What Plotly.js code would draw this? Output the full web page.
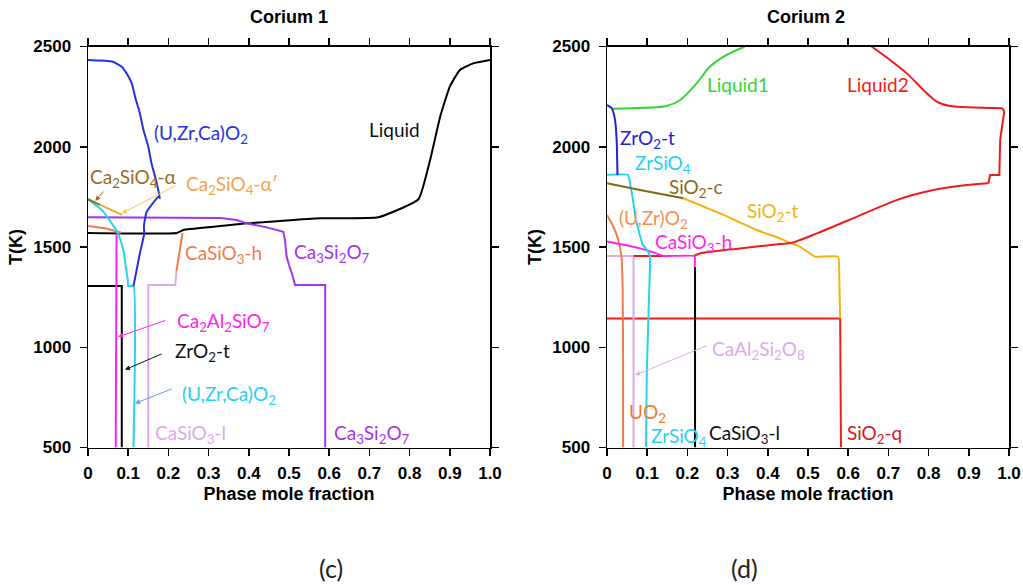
<!DOCTYPE html>
<html>
<head>
<meta charset="utf-8">
<script src="https://cdn.plot.ly/plotly-3.0.1.min.js"></script>
<style>html,body{margin:0;padding:0;background:#fff;}#chart{width:1023px;height:585px;}</style>
</head>
<body>
<div id="chart"></div>
<script>
// ---------- Data: Corium 1 (phase mole fraction vs T) ----------
const c1_UZrCaO2_hi_x = [0, 0.03, 0.062, 0.084, 0.096, 0.109, 0.117, 0.129, 0.138, 0.15, 0.158, 0.169, 0.179, 0.175, 0.146, 0.142, 0.139, 0.14, 0.129, 0.121, 0.113];
const c1_UZrCaO2_hi_T = [2433, 2430, 2424, 2399, 2366, 2316, 2250, 2167, 2083, 2000, 1917, 1834, 1743, 1751, 1676, 1643, 1601, 1568, 1468, 1385, 1305];
const c1_UZrCaO2_lo_x = [0, 0.034, 0.059, 0.075, 0.088, 0.094, 0.099, 0.1, 0.113, 0.113];
const c1_UZrCaO2_lo_T = [1738, 1685, 1618, 1568, 1485, 1402, 1335, 1305, 1305, 500];
const c1_Ca2SiO4a_x = [0, 0.03];
const c1_Ca2SiO4a_T = [1738, 1710];
const c1_Ca2SiO4ap_x = [0.03, 0.085];
const c1_Ca2SiO4ap_T = [1710, 1660];
const c1_Ca3Si2O7_x = [0, 0.25, 0.33, 0.37, 0.395, 0.445, 0.486, 0.49, 0.494, 0.5, 0.507, 0.515, 0.59, 0.59];
const c1_Ca3Si2O7_T = [1648, 1648, 1645, 1635, 1618, 1598, 1576, 1535, 1452, 1410, 1369, 1310, 1310, 500];
const c1_Liquid_x = [0, 0.22, 0.237, 0.312, 0.395, 0.577, 0.722, 0.822, 0.851, 0.876, 0.9, 0.925, 0.958, 1.0];
const c1_Liquid_T = [1570, 1570, 1585, 1601, 1618, 1643, 1648, 1738, 1934, 2150, 2300, 2383, 2416, 2433];
const c1_CaSiO3h_a_x = [0, 0.042, 0.083];
const c1_CaSiO3h_a_T = [1605, 1593, 1571];
const c1_CaSiO3h_b_x = [0.235, 0.232, 0.226, 0.22];
const c1_CaSiO3h_b_T = [1570, 1530, 1450, 1380];
const c1_CaSiO3l_x = [0.22, 0.217, 0.15, 0.15];
const c1_CaSiO3l_T = [1380, 1310, 1310, 500];
const c1_ZrO2t_x = [0, 0.084, 0.084];
const c1_ZrO2t_T = [1305, 1305, 500];
const c1_Ca2Al2SiO7_x = [0.071, 0.069];
const c1_Ca2Al2SiO7_T = [1568, 500];

// ---------- Data: Corium 2 ----------
const c2_Liquid1_x = [0.015, 0.06, 0.148, 0.182, 0.223, 0.256, 0.29, 0.343];
const c2_Liquid1_T = [2190, 2192, 2203, 2233, 2316, 2400, 2450, 2500];
const c2_ZrO2t_x = [0, 0.012, 0.02, 0.024, 0.026];
const c2_ZrO2t_T = [2208, 2192, 2133, 2034, 1859];
const c2_ZrSiO4_x = [0, 0.052, 0.06, 0.068, 0.074, 0.089, 0.1, 0.107, 0.105, 0.099, 0.097];
const c2_ZrSiO4_T = [1860, 1860, 1790, 1690, 1618, 1510, 1485, 1452, 1285, 870, 500];
const c2_SiO2c_x = [0, 0.082, 0.19];
const c2_SiO2c_T = [1818, 1784, 1743];
const c2_SiO2t_x = [0.19, 0.29, 0.372, 0.43, 0.455, 0.48, 0.505, 0.517, 0.575, 0.578, 0.58];
const c2_SiO2t_T = [1743, 1660, 1585, 1543, 1521, 1501, 1468, 1452, 1452, 1319, 1144];
const c2_Liquid2_up_x = [0.658, 0.704, 0.746, 0.787, 0.82, 0.853, 0.984];
const c2_Liquid2_up_T = [2500, 2433, 2366, 2283, 2225, 2203, 2192];
const c2_Liquid2_side_x = [0.984, 0.988, 0.978, 0.976, 0.953, 0.949];
const c2_Liquid2_side_T = [2192, 2175, 2034, 1859, 1859, 1818];
const c2_Liquid2_lo_x = [0.949, 0.895, 0.812, 0.72, 0.612, 0.522, 0.46, 0.43, 0.33, 0.231, 0.215];
const c2_Liquid2_lo_T = [1818, 1809, 1784, 1734, 1643, 1568, 1521, 1515, 1493, 1468, 1455];
const c2_red_mid_x = [0.066, 0.14];
const c2_red_mid_T = [1455, 1455];
const c2_SiO2q_x = [0, 0.58, 0.582];
const c2_SiO2q_T = [1143, 1143, 500];
const c2_CaSiO3h_x = [0, 0.032, 0.082, 0.123, 0.14, 0.218, 0.218];
const c2_CaSiO3h_T = [1527, 1515, 1493, 1468, 1455, 1455, 1400];
const c2_CaSiO3l_x = [0.219, 0.219];
const c2_CaSiO3l_T = [1400, 500];
const c2_CaAl2Si2O8_x = [0, 0.066, 0.066];
const c2_CaAl2Si2O8_T = [1455, 1455, 500];
const c2_UO2_x = [0, 0.016, 0.028, 0.036, 0.039, 0.04, 0.04];
const c2_UO2_T = [1660, 1601, 1535, 1452, 1285, 900, 500];

// ---------- Axis ticks ----------
const xTickVals = [0, 0.1, 0.2, 0.3, 0.4, 0.5, 0.6, 0.7, 0.8, 0.9, 1.0];
const xTickText = ['0', '0.1', '0.2', '0.3', '0.4', '0.5', '0.6', '0.7', '0.8', '0.9', '1.0'];
const yTickVals = [500, 1000, 1500, 2000, 2500];
const yTickText = ['500', '1000', '1500', '2000', '2500'];

// ---------- Colors ----------
const C = {
  blue: '#2433e0', cyan: '#25d2f0', black: '#000000', purple: '#a334f2',
  coral: '#f47a4c', lav: '#dcaae9', magenta: '#ff24ec', olive: '#6f7d1c',
  orange: '#f3a52a', green: '#33d633', red: '#f01c1c', gold: '#f3b30c', brown: '#7d6a12',
  blue2: '#2222d6'
};

function line(x, y, color, ax, smooth) {
  const ln = {color: color, width: 2};
  if (smooth) { ln.shape = 'spline'; ln.smoothing = smooth; }
  return {x: x, y: y, type: 'scatter', mode: 'lines', line: ln,
          xaxis: ax === 2 ? 'x2' : 'x', yaxis: ax === 2 ? 'y2' : 'y', hoverinfo: 'skip', showlegend: false};
}

const traces = [
  line(c1_Liquid_x, c1_Liquid_T, C.black, 1, 0.4),
  line(c1_ZrO2t_x, c1_ZrO2t_T, C.black, 1),
  line(c1_CaSiO3h_a_x, c1_CaSiO3h_a_T, C.coral, 1, 0.6),
  line(c1_CaSiO3h_b_x, c1_CaSiO3h_b_T, C.coral, 1),
  line(c1_CaSiO3l_x, c1_CaSiO3l_T, C.lav, 1),
  line(c1_Ca3Si2O7_x, c1_Ca3Si2O7_T, C.purple, 1),
  line(c1_Ca2Al2SiO7_x, c1_Ca2Al2SiO7_T, C.magenta, 1),
  line(c1_UZrCaO2_lo_x, c1_UZrCaO2_lo_T, C.cyan, 1, 0.4),
  line(c1_UZrCaO2_hi_x, c1_UZrCaO2_hi_T, C.blue, 1, 0.4),
  line(c1_Ca2SiO4a_x, c1_Ca2SiO4a_T, C.olive, 1),
  line(c1_Ca2SiO4ap_x, c1_Ca2SiO4ap_T, C.orange, 1),

  line(c2_SiO2q_x, c2_SiO2q_T, C.red, 2),
  line(c2_CaSiO3l_x, c2_CaSiO3l_T, C.black, 2),
  line(c2_CaAl2Si2O8_x, c2_CaAl2Si2O8_T, C.lav, 2),
  line(c2_UO2_x, c2_UO2_T, C.coral, 2, 0.6),
  line(c2_SiO2t_x, c2_SiO2t_T, C.gold, 2, 0.3),
  line(c2_Liquid2_up_x, c2_Liquid2_up_T, C.red, 2, 0.7),
  line(c2_Liquid2_side_x, c2_Liquid2_side_T, C.red, 2),
  line(c2_Liquid2_lo_x, c2_Liquid2_lo_T, C.red, 2, 0.7),
  line(c2_red_mid_x, c2_red_mid_T, C.red, 2),
  line(c2_CaSiO3h_x, c2_CaSiO3h_T, C.magenta, 2, 0.3),
  line(c2_ZrSiO4_x, c2_ZrSiO4_T, C.cyan, 2, 0.3),
  line(c2_SiO2c_x, c2_SiO2c_T, C.brown, 2, 0.5),
  line(c2_Liquid1_x, c2_Liquid1_T, C.green, 2, 0.8),
  line(c2_ZrO2t_x, c2_ZrO2t_T, C.blue2, 2, 0.6)
];

const LBL = "Lato, 'Open Sans', sans-serif";
function lbl(text, x, y, color, ax) {
  return {text: text, x: x, y: y, xref: ax === 2 ? 'x2' : 'x', yref: ax === 2 ? 'y2' : 'y',
          xanchor: 'left', yanchor: 'middle', showarrow: false, font: {family: LBL, size: 19, color: color}};
}
function arrow(hx, hy, tx, ty, color, ax) {
  const xr = ax === 2 ? 'x2' : 'x', yr = ax === 2 ? 'y2' : 'y';
  return {x: hx, y: hy, ax: tx, ay: ty, xref: xr, yref: yr, axref: xr, ayref: yr, text: '',
          showarrow: true, arrowhead: 2, arrowsize: 1, arrowwidth: 1, arrowcolor: color};
}

const annotations = [
  // Corium 1 labels
  lbl('(U,Zr,Ca)O<sub>2</sub>', 0.158, 2064, C.blue, 1),
  lbl('Liquid', 0.694, 2088, '#111', 1),
  lbl('Ca<sub>2</sub>SiO<sub>4</sub>-α', 0.0, 1844, '#9c6a1e', 1),
  lbl('Ca<sub>2</sub>SiO<sub>4</sub>-α′', 0.238, 1809, '#f5a34a', 1),
  lbl('CaSiO<sub>3</sub>-h', 0.236, 1465, C.coral, 1),
  lbl('Ca<sub>3</sub>Si<sub>2</sub>O<sub>7</sub>', 0.508, 1470, C.purple, 1),
  lbl('Ca<sub>2</sub>Al<sub>2</sub>SiO<sub>7</sub>', 0.216, 1126, C.magenta, 1),
  lbl('ZrO<sub>2</sub>-t', 0.211, 976, '#111', 1),
  lbl('(U,Zr,Ca)O<sub>2</sub>', 0.229, 762, C.cyan, 1),
  lbl('CaSiO<sub>3</sub>-l', 0.162, 567, C.lav, 1),
  lbl('Ca<sub>3</sub>Si<sub>2</sub>O<sub>7</sub>', 0.606, 567, C.purple, 1),
  arrow(0.018, 1730, 0.042, 1784, '#9c6a1e', 1),
  arrow(0.084, 1668, 0.221, 1809, '#f8c850', 1),
  arrow(0.075, 1052, 0.196, 1136, C.magenta, 1),
  arrow(0.092, 888, 0.187, 970, '#111', 1),
  arrow(0.117, 720, 0.212, 795, '#6b9bd8', 1),
  // Corium 2 labels
  lbl('Liquid1', 0.244, 2308, C.green, 2),
  lbl('ZrO<sub>2</sub>-t', 0.027, 2040, C.blue2, 2),
  lbl('ZrSiO<sub>4</sub>', 0.065, 1915, C.cyan, 2),
  lbl('SiO<sub>2</sub>-c', 0.149, 1793, '#8b6914', 2),
  lbl('SiO<sub>2</sub>-t', 0.343, 1674, C.gold, 2),
  lbl('(U,Zr)O<sub>2</sub>', 0.025, 1640, '#f7904f', 2),
  lbl('CaSiO<sub>3</sub>-h', 0.114, 1522, C.magenta, 2),
  lbl('Liquid2', 0.592, 2308, C.red, 2),
  lbl('SiO<sub>2</sub>-q', 0.592, 567, '#d81818', 2),
  lbl('CaAl<sub>2</sub>Si<sub>2</sub>O<sub>8</sub>', 0.256, 986, C.lav, 2),
  lbl('UO<sub>2</sub>', 0.05, 672, '#f47a2c', 2),
  lbl('ZrSiO<sub>4</sub>', 0.105, 554, C.cyan, 2),
  lbl('CaSiO<sub>3</sub>-l', 0.249, 567, '#111', 2),
  arrow(0.07, 861, 0.252, 1011, C.lav, 2),
  // Subplot titles
  {text: 'Corium 1', x: 289 / 1023, y: 1 - 17 / 585, xref: 'paper', yref: 'paper', showarrow: false,
   xanchor: 'center', yanchor: 'middle', font: {family: 'Liberation Sans, Arial, sans-serif', size: 18, weight: 'bold', color: '#000'}},
  {text: 'Corium 2', x: 806 / 1023, y: 1 - 17 / 585, xref: 'paper', yref: 'paper', showarrow: false,
   xanchor: 'center', yanchor: 'middle', font: {family: 'Liberation Sans, Arial, sans-serif', size: 18, weight: 'bold', color: '#000'}},
  // Panel captions
  {text: '(c)', x: 331 / 1023, y: 1 - 568 / 585, xref: 'paper', yref: 'paper', showarrow: false,
   xanchor: 'center', yanchor: 'middle', font: {family: LBL, size: 25, color: '#222'}},
  {text: '(d)', x: 744 / 1023, y: 1 - 568 / 585, xref: 'paper', yref: 'paper', showarrow: false,
   xanchor: 'center', yanchor: 'middle', font: {family: LBL, size: 25, color: '#222'}}
];

const tickFont = {family: 'Liberation Sans, Arial, sans-serif', size: 17, weight: 'bold', color: '#000'};
const titleFont = {family: 'Liberation Sans, Arial, sans-serif', size: 18, weight: 'bold', color: '#000'};
const yDom = [1 - 447.5 / 585, 1 - 46.5 / 585];

function xAxis(dom, anchor) {
  return {domain: dom, anchor: anchor, range: [0, 1], tickmode: 'array', tickvals: xTickVals, ticktext: xTickText,
          showline: true, linecolor: '#000', linewidth: 1.5, mirror: 'ticks', ticks: 'outside', ticklen: 7,
          tickwidth: 1.5, tickcolor: '#000', showgrid: false, zeroline: false, tickfont: tickFont,
          ticklabelstandoff: 3, automargin: false,
          title: {text: 'Phase mole fraction', font: titleFont, standoff: 5}};
}
function yAxis(anchor) {
  return {domain: yDom, anchor: anchor, range: [500, 2500], tickmode: 'array', tickvals: yTickVals, ticktext: yTickText,
          showline: true, linecolor: '#000', linewidth: 1.5, mirror: 'ticks', ticks: 'outside', ticklen: 7,
          tickwidth: 1.5, tickcolor: '#000', showgrid: false, zeroline: false, tickfont: tickFont,
          ticklabelstandoff: 5, automargin: false,
          title: {text: 'T(K)', font: titleFont, standoff: 6}};
}

const layout = {
  width: 1023, height: 585,
  margin: {l: 0, r: 0, t: 0, b: 0},
  paper_bgcolor: '#fff', plot_bgcolor: '#fff',
  showlegend: false,
  xaxis: xAxis([88 / 1023, 490 / 1023], 'y'),
  yaxis: yAxis('x'),
  xaxis2: xAxis([607 / 1023, 1009 / 1023], 'y2'),
  yaxis2: yAxis('x2'),
  annotations: annotations
};

Plotly.newPlot('chart', traces, layout, {displayModeBar: false, staticPlot: true});
</script>
</body>
</html>
